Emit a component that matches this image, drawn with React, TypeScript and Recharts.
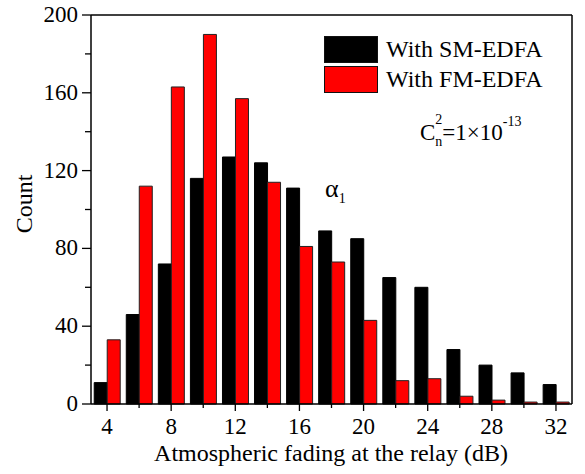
import { BarChart, Bar, XAxis, YAxis, Legend, ReferenceLine, Customized } from 'recharts'

const categories = [4, 6, 8, 10, 12, 14, 16, 18, 20, 22, 24, 26, 28, 30, 32]
const smEdfa = [11, 46, 72, 116, 127, 124, 111, 89, 85, 65, 60, 28, 20, 16, 10]
const fmEdfa = [33, 112, 163, 190, 157, 114, 81, 73, 43, 12, 13, 4, 2, 1, 1]
const yTicks = [0, 20, 40, 60, 80, 100, 120, 140, 160, 180, 200]
const seriesOrder = ['With SM-EDFA', 'With FM-EDFA']

const data = categories.map((x, i) => ({ x, sm: smEdfa[i], fm: fmEdfa[i] }))

const FONT = '"Liberation Serif", "Times New Roman", serif'

function XTick(props: any) {
  const { x, y, payload } = props
  const major = payload.value % 4 === 0
  return (
    <g>
      <line x1={x} x2={x} y1={y} y2={y + (major ? 7 : 4)} stroke="#000" strokeWidth={1.3} />
      {major && (
        <text x={x} y={y + 30} textAnchor="middle" style={{ fontFamily: FONT, fontSize: 23 }} fill="#000">
          {payload.value}
        </text>
      )}
    </g>
  )
}

function YTick(props: any) {
  const { x, y, payload } = props
  const major = payload.value % 40 === 0
  return (
    <g>
      <line x1={x} x2={x - (major ? 9 : 6)} y1={y} y2={y} stroke="#000" strokeWidth={1.3} />
      {major && (
        <text x={x - 13} y={y} dy={7} textAnchor="end" style={{ fontFamily: FONT, fontSize: 23 }} fill="#000">
          {payload.value}
        </text>
      )}
    </g>
  )
}

function LegendBox(props: any) {
  const items = [...(props.payload || [])].sort(
    (a: any, b: any) => seriesOrder.indexOf(a.value) - seriesOrder.indexOf(b.value))
  return (
    <div style={{ fontFamily: FONT }}>
      {items.map((p: any) => (
        <div key={p.value} style={{ display: 'flex', alignItems: 'center', height: 30 }}>
          <div style={{ width: 52, height: 25, background: p.color, border: '1px solid #111' }} />
          <span style={{ marginLeft: 8, fontSize: 24, color: '#000', lineHeight: '30px' }}>{p.value}</span>
        </div>
      ))}
    </div>
  )
}

function Notes() {
  return (
    <g style={{ fontFamily: FONT }} fill="#000">
      <line x1={572} x2={572} y1={15} y2={404} stroke="#000" strokeWidth={1.5} />
      <text x={420} y={140} fontSize={23}>
        C
        <tspan dy={-16} fontSize={14}>2</tspan>
        <tspan dx={-7} dy={22} fontSize={14}>n</tspan>
        <tspan dy={-6}>=1×10</tspan>
        <tspan dy={-14} fontSize={14}>-13</tspan>
      </text>
      <text x={325} y={197} fontSize={26}>
        α<tspan dy={6} fontSize={14}>1</tspan>
      </text>
      <text x={24} y={204} fontSize={24} textAnchor="middle" dominantBaseline="central"
        transform="rotate(-90 24 204)">Count</text>
      <text x={331} y={461} fontSize={24} textAnchor="middle">Atmospheric fading at the relay (dB)</text>
    </g>
  )
}

export default function App() {
  return (
    <div style={{ position: 'absolute', left: 0, top: 0, background: '#fff', fontFamily: FONT }}>
      <BarChart width={585} height={474} data={data}
        margin={{ top: 15, right: 13, left: 0, bottom: 0 }}
        barCategoryGap="10%" barGap={0}>
        <XAxis dataKey="x" height={70} tickSize={0} tickMargin={0} tickLine={false}
          tick={<XTick />} interval={0} axisLine={{ stroke: '#000', strokeWidth: 1.5 }} />
        <YAxis width={91} domain={[0, 200]} ticks={yTicks} interval={0} tickSize={0} tickMargin={0}
          tickLine={false} tick={<YTick />} axisLine={{ stroke: '#000', strokeWidth: 1.5 }} />
        <ReferenceLine y={200} stroke="#000" strokeWidth={1.5} />
        <Legend content={<LegendBox />} layout="horizontal" verticalAlign="middle" align="center"
          wrapperStyle={{ position: 'absolute', left: 324, top: 34, width: 240 }} />
        <Bar dataKey="sm" name="With SM-EDFA" fill="#000" stroke="#000" strokeWidth={1}
          isAnimationActive={false} />
        <Bar dataKey="fm" name="With FM-EDFA" fill="#ff0000" stroke="#222" strokeWidth={1}
          isAnimationActive={false} />
        <Customized component={<Notes />} />
      </BarChart>
    </div>
  )
}
